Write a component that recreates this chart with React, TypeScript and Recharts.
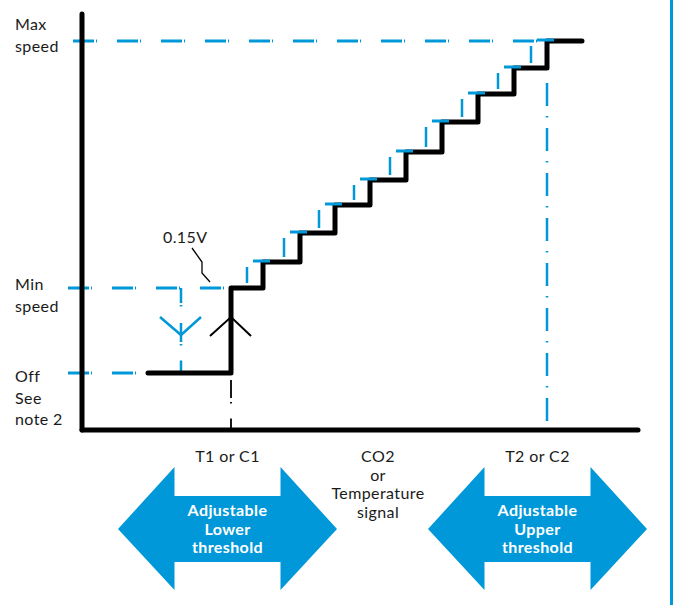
import React from 'react';
import { ComposedChart, Line, XAxis, YAxis, ReferenceLine, ReferenceDot } from 'recharts';

const BLUE = '#0098d8';
const INK = '#1a1a1a';
const FONT = 'Lato, "Open Sans", sans-serif';

// Staircase: signal (x) at each step and the fan speed (y) reached there
const stepSignal = [66, 149, 181, 218, 253, 288, 324, 360, 396, 432, 465, 500];
const stepSpeed = [57, 142, 168, 197, 225, 250, 278, 308, 336, 362, 389, 389];

// Speed levels shown on the vertical axis: off, min, max
const speedLevels = [57, 142, 389];
const speedLabels = [['Off', 'See', 'note 2'], ['Min', 'speed'], ['Max', 'speed']];

// Signal thresholds
const offSignal = 99; // switch-off point of the hysteresis
const lowerThreshold = 149; // T1 / C1
const upperThreshold = 465; // T2 / C2

// Horizontal axis labels
const xLabelPositions = [145.5, 296, 455.5];
const xLabels = [['T1 or C1'], ['CO2', 'or', 'Temperature', 'signal'], ['T2 or C2']];
const arrowLabels = [['Adjustable', 'Lower', 'threshold'], null, ['Adjustable', 'Upper', 'threshold']];

const voltageLabel = '0.15V';

const data = stepSignal.map((s, i) => ({ signal: s, speed: stepSpeed[i] }));

const hysteresisSteps = stepSignal
  .map((s, i) => ({ signal: s, level: stepSpeed[i], prev: stepSpeed[i - 1], i }))
  .filter((d) => d.i >= 2 && d.i < stepSignal.length - 1);

const dashDot = '21 2 1 20';

const YTick = (props: any) => {
  const { y, payload } = props;
  const idx = speedLevels.indexOf(payload.value);
  if (idx < 0) return null;
  const firstDy = [9, 2, -11][idx];
  return (
    <text x={15} y={y + firstDy} fill={INK} fontSize={16} letterSpacing={0.4} fontFamily={FONT}>
      {speedLabels[idx].map((l, k) => (
        <tspan key={k} x={15} dy={k === 0 ? 0 : 21.5}>
          {l}
        </tspan>
      ))}
    </text>
  );
};

const XTick = (props: any) => {
  const { x, payload } = props;
  const y = 430;
  const idx = xLabelPositions.indexOf(payload.value);
  if (idx < 0) return null;
  const arrow = arrowLabels[idx];
  const cy = y + 99;
  const pts = [
    [-109.5, 0], [-53, -62], [-53, -33], [53, -33], [53, -62],
    [109.5, 0], [53, 61], [53, 33], [-53, 33], [-53, 61],
  ]
    .map(([dx, dy]) => `${x + dx},${cy + dy}`)
    .join(' ');
  return (
    <g>
      <text x={x} y={y + 32} textAnchor="middle" fill={INK} fontSize={16} letterSpacing={0.4} fontFamily={FONT}>
        {xLabels[idx].map((l, k) => (
          <tspan key={k} x={x} dy={k === 0 ? 0 : 18.5}>
            {l}
          </tspan>
        ))}
      </text>
      {arrow && <polygon points={pts} fill={BLUE} />}
      {arrow && (
        <text
          x={x}
          y={y + 86}
          textAnchor="middle"
          fill="#fff"
          fontSize={16}
          fontWeight="bold"
          letterSpacing={0.4}
          fontFamily={FONT}
        >
          {arrow.map((l, k) => (
            <tspan key={k} x={x} dy={k === 0 ? 0 : 18.7}>
              {l}
            </tspan>
          ))}
        </text>
      )}
    </g>
  );
};

const UpArrow = (p: any) => (
  <polyline
    points={`${p.cx - 21},${p.cy + 5.5} ${p.cx},${p.cy - 13.5} ${p.cx + 20},${p.cy + 5.5}`}
    fill="none"
    stroke="#000"
    strokeWidth={2}
  />
);

const DownArrow = (p: any) => (
  <polyline
    points={`${p.cx - 21},${p.cy - 13.5} ${p.cx},${p.cy + 4.5} ${p.cx + 20},${p.cy - 13.5}`}
    fill="none"
    stroke={BLUE}
    strokeWidth={2.5}
  />
);

const VoltageNote = (p: any) => (
  <g>
    <polyline
      points={`${p.cx - 39},${p.cy - 40} ${p.cx - 29},${p.cy - 26} ${p.cx - 29},${p.cy - 15} ${p.cx - 21},${p.cy - 6}`}
      fill="none"
      stroke="#000"
      strokeWidth={1.3}
    />
    <text x={p.cx - 68} y={p.cy - 45} fill={INK} fontSize={16} letterSpacing={0.4} fontFamily={FONT}>
      {voltageLabel}
    </text>
  </g>
);

export default function App() {
  const midOff = (speedLevels[0] + speedLevels[1]) / 2;
  return (
    <div style={{ position: 'absolute', left: 0, top: 0, width: 677, height: 605, background: '#fff' }}>
      <ComposedChart
        width={677}
        height={605}
        data={data}
        margin={{ top: 14, right: 39, bottom: 174, left: 81 }}
      >
        <XAxis
          dataKey="signal"
          type="number"
          domain={[0, 556]}
          allowDataOverflow
          ticks={xLabelPositions}
          interval={0}
          tick={XTick}
          tickLine={false}
          tickSize={0}
          tickMargin={0}
          height={1}
          axisLine={{ stroke: '#000', strokeWidth: 5, strokeLinecap: 'round' }}
        />
        <YAxis
          type="number"
          domain={[0, 416]}
          allowDataOverflow
          ticks={speedLevels}
          interval={0}
          tick={YTick}
          tickLine={false}
          tickSize={0}
          width={1}
          axisLine={{ stroke: '#000', strokeWidth: 5, strokeLinecap: 'round' }}
        />

        {/* dash-dot guide lines */}
        <ReferenceLine
          segment={[{ x: -9, y: speedLevels[2] }, { x: upperThreshold + 1, y: speedLevels[2] }]}
          stroke={BLUE}
          strokeWidth={3}
          strokeDasharray={dashDot}
          ifOverflow="visible"
        />
        <ReferenceLine
          segment={[{ x: -14, y: speedLevels[1] }, { x: lowerThreshold, y: speedLevels[1] }]}
          stroke={BLUE}
          strokeWidth={3}
          strokeDasharray={dashDot}
          ifOverflow="visible"
        />
        <ReferenceLine
          segment={[{ x: -14, y: speedLevels[0] }, { x: stepSignal[0], y: speedLevels[0] }]}
          stroke={BLUE}
          strokeWidth={3}
          strokeDasharray={dashDot}
          ifOverflow="visible"
        />
        <ReferenceLine
          segment={[{ x: upperThreshold, y: 347 }, { x: upperThreshold, y: 0 }]}
          stroke={BLUE}
          strokeWidth={2.5}
          strokeDasharray="23 10 1.5 10.5"
          ifOverflow="visible"
        />
        <ReferenceLine
          segment={[{ x: offSignal, y: speedLevels[1] }, { x: offSignal, y: speedLevels[0] }]}
          stroke={BLUE}
          strokeWidth={2.5}
          strokeDasharray="15 2 1.5 16.5 19 2 1.5 15 11 100"
          ifOverflow="visible"
        />
        <ReferenceLine
          segment={[{ x: lowerThreshold, y: speedLevels[0] }, { x: lowerThreshold, y: 0 }]}
          stroke="#000"
          strokeWidth={1.8}
          strokeDasharray="0 7 18 4 1.5 15 20 100"
          ifOverflow="visible"
        />

        <Line
          type="stepAfter"
          dataKey="speed"
          stroke="#000"
          strokeWidth={5}
          strokeLinejoin="round"
          strokeLinecap="round"
          dot={false}
          activeDot={false}
          isAnimationActive={false}
        />

        {/* hysteresis (down path) marks */}
        {hysteresisSteps.map((d) => (
          <ReferenceLine
            key={`h${d.i}`}
            segment={[{ x: d.signal - 10, y: d.level + 1 }, { x: d.signal + 7, y: d.level + 1 }]}
            stroke={BLUE}
            strokeWidth={3}
            ifOverflow="visible"
          />
        ))}
        {hysteresisSteps.map((d) => (
          <ReferenceLine
            key={`v${d.i}`}
            segment={[{ x: d.signal - 16, y: d.prev + 5 }, { x: d.signal - 16, y: d.level - 5 }]}
            stroke={BLUE}
            strokeWidth={2.5}
            ifOverflow="visible"
          />
        ))}

        <ReferenceDot x={lowerThreshold} y={midOff} shape={UpArrow} ifOverflow="visible" />
        <ReferenceDot x={offSignal} y={midOff} shape={DownArrow} ifOverflow="visible" />
        <ReferenceDot x={lowerThreshold} y={speedLevels[1]} shape={VoltageNote} ifOverflow="visible" />
      </ComposedChart>
      <div style={{ position: 'absolute', left: 670, top: 0, width: 3, height: 605, background: BLUE }} />
    </div>
  );
}
